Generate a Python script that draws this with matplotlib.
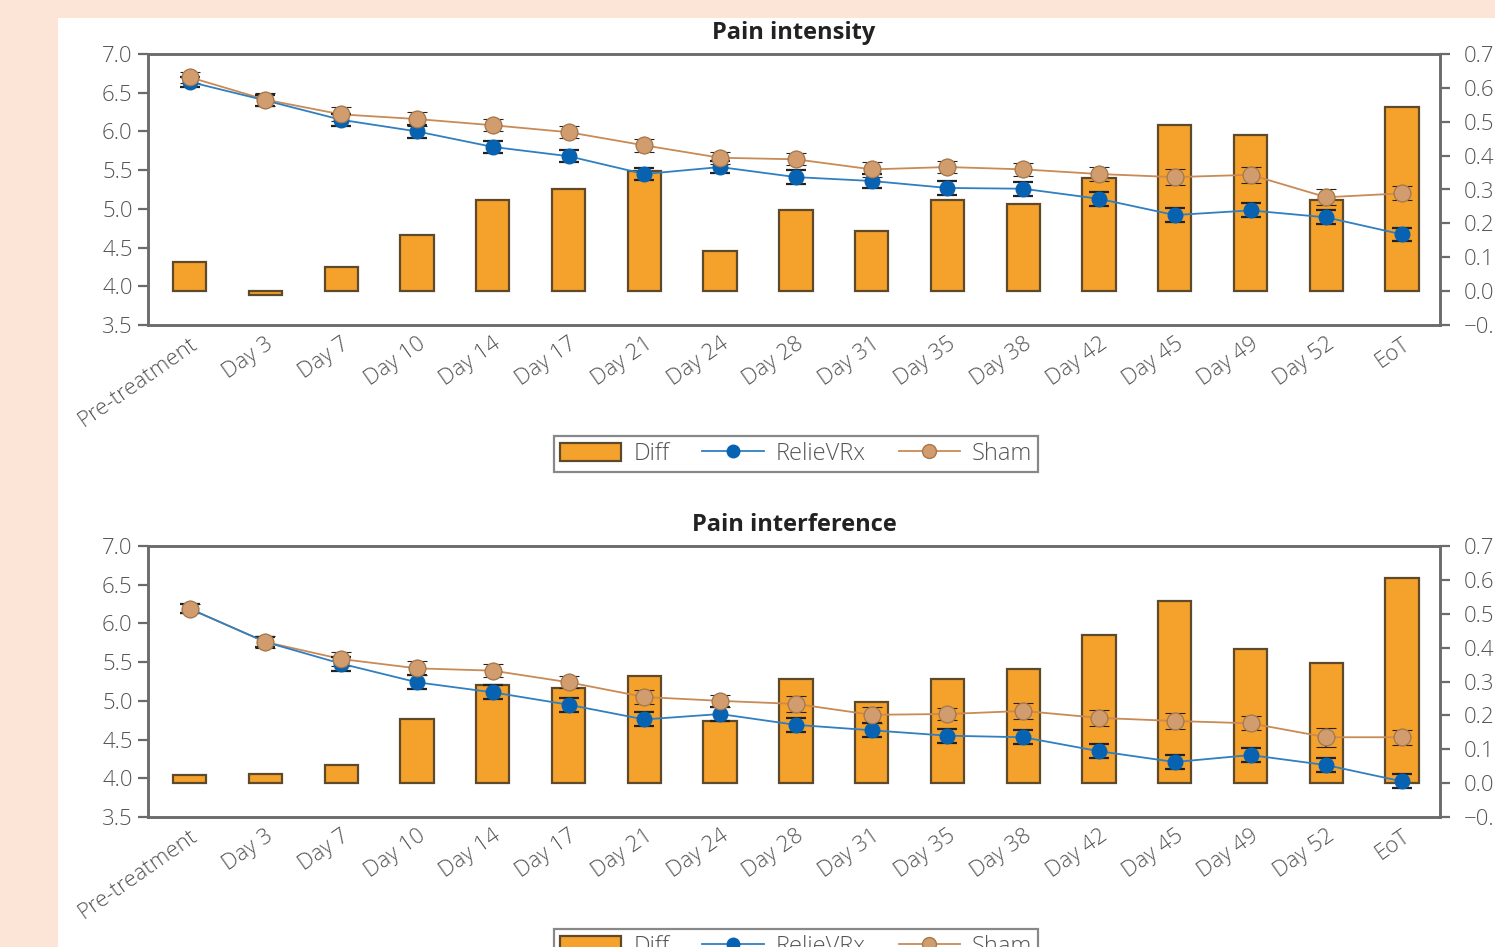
import matplotlib
matplotlib.use("Agg")
import matplotlib.pyplot as plt
from matplotlib.patches import Rectangle, Patch
from matplotlib.lines import Line2D
import numpy as np

plt.rcParams['font.family'] = ['Open Sans', 'DejaVu Sans']
plt.rcParams['font.weight'] = 'light'

timepoints = ["Pre-treatment", "Day 3", "Day 7", "Day 10", "Day 14", "Day 17",
              "Day 21", "Day 24", "Day 28", "Day 31", "Day 35", "Day 38",
              "Day 42", "Day 45", "Day 49", "Day 52", "EoT"]

# Pain intensity
intensity_diff = [0.085, -0.01, 0.07, 0.165, 0.27, 0.30, 0.355, 0.118, 0.24,
                  0.177, 0.27, 0.257, 0.333, 0.49, 0.46, 0.27, 0.545]
intensity_relievrx = [6.64, 6.40, 6.15, 6.00, 5.80, 5.68, 5.45, 5.54, 5.41,
                      5.36, 5.27, 5.26, 5.13, 4.92, 4.98, 4.89, 4.67]
intensity_relievrx_err = [0.06, 0.07, 0.08, 0.08, 0.08, 0.08, 0.08, 0.08, 0.09,
                          0.09, 0.09, 0.09, 0.09, 0.09, 0.09, 0.09, 0.08]
intensity_sham = [6.70, 6.41, 6.22, 6.16, 6.08, 5.99, 5.82, 5.66, 5.64,
                  5.51, 5.54, 5.51, 5.45, 5.41, 5.44, 5.15, 5.20]
intensity_sham_err = [0.07, 0.08, 0.09, 0.09, 0.08, 0.08, 0.08, 0.08, 0.08,
                      0.10, 0.08, 0.08, 0.09, 0.10, 0.10, 0.10, 0.09]

# Pain interference
interference_diff = [0.024, 0.027, 0.053, 0.19, 0.29, 0.28, 0.315, 0.183, 0.307,
                     0.24, 0.307, 0.336, 0.437, 0.537, 0.395, 0.354, 0.605]
interference_relievrx = [6.19, 5.76, 5.48, 5.24, 5.11, 4.95, 4.76, 4.83, 4.69,
                         4.62, 4.55, 4.53, 4.35, 4.21, 4.30, 4.17, 3.96]
interference_relievrx_err = [0.06, 0.07, 0.09, 0.09, 0.09, 0.09, 0.09, 0.09, 0.09,
                             0.09, 0.09, 0.09, 0.09, 0.09, 0.09, 0.09, 0.09]
interference_sham = [6.19, 5.76, 5.54, 5.42, 5.39, 5.24, 5.05, 5.00, 4.96,
                     4.82, 4.83, 4.87, 4.78, 4.74, 4.71, 4.53, 4.53]
interference_sham_err = [0.06, 0.08, 0.09, 0.09, 0.08, 0.08, 0.09, 0.08, 0.10,
                         0.10, 0.08, 0.10, 0.10, 0.10, 0.09, 0.12, 0.10]

W, H = 1495, 947
BG = '#FCE4D6'
BAR = '#F5A22C'
BAR_EDGE = '#5E4A2A'
BLUE_LINE = '#2F7FC1'
BLUE_MARK = '#0762B2'
TAN_LINE = '#C98A55'
TAN_MARK = '#D19C6E'
TAN_EDGE = '#A6784C'
SPINE = '#6b6b6b'
TEXT = '#555555'

fig = plt.figure(figsize=(W / 100, H / 100), dpi=100, facecolor=BG)
fig.patches.append(Rectangle((58 / W, 0), 1, 1 - 18 / H, transform=fig.transFigure,
                             facecolor='white', edgecolor='none', zorder=-5))


def draw_panel(top_px, bottom_px, title, diff, rel, rel_err, sham, sham_err, legend_px):
    left_px, right_px = 148, 1440
    rect = [left_px / W, 1 - bottom_px / H, (right_px - left_px) / W, (bottom_px - top_px) / H]
    ax = fig.add_axes(rect)
    ax2 = ax.twinx()
    ax.set_zorder(ax2.get_zorder() + 1)
    ax.patch.set_visible(False)
    ax2.patch.set_facecolor('white')

    x = np.arange(len(timepoints))
    ax2.bar(x, diff, width=0.44, color=BAR, edgecolor=BAR_EDGE, linewidth=1.6, zorder=2)

    ax.errorbar(x, sham, yerr=sham_err, color=TAN_LINE, lw=1.3, marker='o', ms=12,
                mfc=TAN_MARK, mec=TAN_EDGE, mew=0.8, ecolor='#222222', elinewidth=1.4,
                capsize=7, capthick=1.6, zorder=3)
    ax.errorbar(x, rel, yerr=rel_err, color=BLUE_LINE, lw=1.3, marker='o', ms=10.5,
                mfc=BLUE_MARK, mec=BLUE_MARK, ecolor='#222222', elinewidth=1.4,
                capsize=7, capthick=1.6, zorder=4)
    # Sham markers are drawn over the RelieVRx ones where they coincide
    ax.plot(x, sham, linestyle='none', marker='o', ms=12, mfc=TAN_MARK, mec=TAN_EDGE,
            mew=0.8, zorder=5)

    ax.set_xlim(-0.55, 16.5)
    ax.set_ylim(3.5, 7.0)
    ax2.set_ylim(-0.1, 0.7)
    ax.set_yticks(np.arange(3.5, 7.01, 0.5))
    ax.set_yticklabels([f"{v:.1f}" for v in np.arange(3.5, 7.01, 0.5)])
    ax2.set_yticks(np.arange(-0.1, 0.71, 0.1))
    ax2.set_yticklabels([f"{v:.1f}".replace('-', '\u2212') for v in np.arange(-0.1, 0.71, 0.1)])
    ax.set_xticks(x)
    ax.set_xticklabels(timepoints, rotation=35, ha='right', va='top',
                       rotation_mode='anchor', fontsize=16, color=TEXT)

    for a in (ax, ax2):
        for s in a.spines.values():
            s.set_color(SPINE)
            s.set_linewidth(1.8)
    ax.tick_params(axis='x', length=0, pad=6)
    ax.tick_params(axis='y', direction='out', length=7, width=1.6, color=SPINE,
                   labelsize=16, labelcolor=TEXT, pad=4)
    ax2.tick_params(axis='y', direction='out', length=7, width=1.6, color=SPINE,
                    labelsize=16, labelcolor=TEXT, pad=10)

    ax.set_title(title, fontsize=17, fontweight='bold', color='#222222', pad=11)

    handles = [
        Patch(facecolor=BAR, edgecolor=BAR_EDGE, linewidth=1.6),
        Line2D([], [], color=BLUE_LINE, lw=1.3, marker='o', ms=9, mfc=BLUE_MARK, mec=BLUE_MARK),
        Line2D([], [], color=TAN_LINE, lw=1.3, marker='o', ms=10, mfc=TAN_MARK, mec=TAN_EDGE),
    ]
    leg = fig.legend(handles, ["Diff", "RelieVRx", "Sham"], loc='center',
                     bbox_to_anchor=(796 / W, 1 - legend_px / H), ncol=3,
                     frameon=True, fancybox=False, fontsize=17, handlelength=2.6,
                     handleheight=0.8, columnspacing=1.4, handletextpad=0.5,
                     borderpad=0.25, labelcolor=TEXT)
    leg.get_frame().set_edgecolor(SPINE)
    leg.get_frame().set_linewidth(1.6)
    return ax


draw_panel(54, 325, "Pain intensity", intensity_diff, intensity_relievrx,
           intensity_relievrx_err, intensity_sham, intensity_sham_err, 454)
draw_panel(546, 817, "Pain interference", interference_diff, interference_relievrx,
           interference_relievrx_err, interference_sham, interference_sham_err, 947)

fig.savefig("out.png", dpi=100, facecolor=BG)
